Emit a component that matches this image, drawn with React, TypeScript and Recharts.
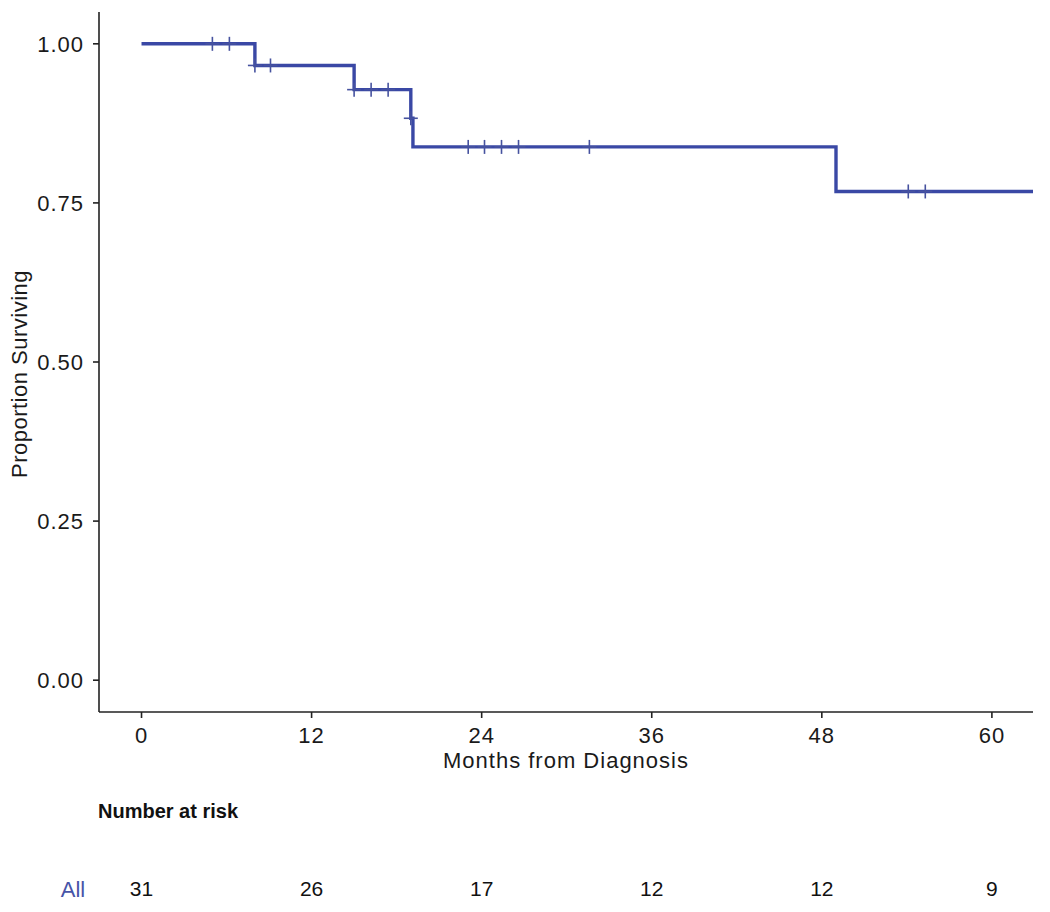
import React from 'react';
import {
  ComposedChart,
  Line,
  Scatter,
  XAxis,
  YAxis,
  Label,
} from 'recharts';

// Kaplan-Meier estimate (step after each time)
const survTimes = [0, 8, 15, 19, 19.15, 49, 62.9];
const survProb = [1, 0.966, 0.928, 0.883, 0.838, 0.768, 0.768];

// censored observations (+ marks)
const censorTimes = [5, 6.2, 8, 9.1, 15, 16.2, 17.4, 19, 23.05, 24.2, 25.4, 26.6, 31.6, 54.1, 55.3];
const censorProb = [1, 1, 0.966, 0.966, 0.928, 0.928, 0.928, 0.883, 0.838, 0.838, 0.838, 0.838, 0.838, 0.768, 0.768];

const xTicks = [0, 12, 24, 36, 48, 60];
const yTicks = [0, 0.25, 0.5, 0.75, 1];
const riskCounts = [31, 26, 17, 12, 12, 9];

const curveData = survTimes.map((t, i) => ({ t, s: survProb[i] }));
const censorData = censorTimes.map((t, i) => ({ t, s: censorProb[i] }));

const FONT = '"Liberation Sans", Arial, sans-serif';
const BLUE = '#3a48a5';

const CensorMark = (props: any) => {
  const { cx, cy } = props;
  if (cx == null || cy == null) return null;
  return (
    <g stroke="#46529f" strokeWidth={1.6}>
      <line x1={cx - 7} y1={cy} x2={cx + 7} y2={cy} />
      <line x1={cx} y1={cy - 7} x2={cx} y2={cy + 7} />
    </g>
  );
};

const RiskTick = (props: any) => {
  const { x, y, payload } = props;
  const idx = xTicks.indexOf(payload.value);
  return (
    <text x={x} y={y} dy="0.71em" textAnchor="middle" fontSize={21} fontFamily={FONT} fill="#111">
      {riskCounts[idx]}
    </text>
  );
};

const App: React.FC = () => {
  return (
    <div style={{ position: 'absolute', left: 0, top: 0, width: 1050, height: 912, background: '#fff' }}>
      <ComposedChart width={1050} height={912} margin={{ top: 12, right: 17, bottom: 0, left: 0 }}>
        <XAxis
          dataKey="t"
          type="number"
          domain={[-3.0, 62.9]}
          ticks={xTicks}
          allowDataOverflow
          height={60}
          stroke="#222"
          strokeWidth={1.6}
          tickSize={6}
          tickMargin={9}
          tick={{ fontSize: 22, fontFamily: FONT, fill: '#1a1a1a', letterSpacing: 1 }}
        >
          <Label
            content={({ viewBox }: any) => (
              <text
                x={viewBox.x + viewBox.width / 2}
                y={viewBox.y + 56}
                textAnchor="middle"
                fontSize={22}
                letterSpacing={1}
                fontFamily={FONT}
                fill="#1a1a1a"
              >
                Months from Diagnosis
              </text>
            )}
          />
        </XAxis>
        <XAxis
          xAxisId="risk"
          dataKey="t"
          type="number"
          domain={[-3.0, 62.9]}
          ticks={xTicks}
          allowDataOverflow
          height={140}
          axisLine={false}
          tickLine={false}
          tickSize={0}
          tickMargin={109}
          tick={<RiskTick />}
        >
          <Label
            content={({ viewBox }: any) => (
              <g fontFamily={FONT}>
                <text x={viewBox.x - 1} y={viewBox.y + 46} fontSize={20} fontWeight="bold" fill="#111">
                  Number at risk
                </text>
                <text x={73} y={viewBox.y + 117} dy="0.36em" textAnchor="middle" fontSize={22} fill="#4654a8">
                  All
                </text>
              </g>
            )}
          />
        </XAxis>
        <YAxis
          type="number"
          domain={[-0.05, 1.05]}
          ticks={yTicks}
          allowDataOverflow
          width={99}
          stroke="#222"
          strokeWidth={1.6}
          tickSize={6}
          tickMargin={9}
          tickFormatter={(v: number) => v.toFixed(2)}
          tick={{ fontSize: 22, fontFamily: FONT, fill: '#1a1a1a', letterSpacing: 1 }}
        >
          <Label
            content={({ viewBox }: any) => {
              const cx = 19;
              const cy = viewBox.y + viewBox.height / 2 + 12;
              return (
                <text
                  x={cx}
                  y={cy}
                  transform={`rotate(-90 ${cx} ${cy})`}
                  textAnchor="middle"
                  dy="0.36em"
                  fontSize={22}
                  letterSpacing={0.5}
                  fontFamily={FONT}
                  fill="#1a1a1a"
                >
                  Proportion Surviving
                </text>
              );
            }}
          />
        </YAxis>
        <Line
          data={curveData}
          dataKey="s"
          type="stepAfter"
          stroke={BLUE}
          strokeWidth={3.4}
          dot={false}
          activeDot={false}
          isAnimationActive={false}
        />
        <Scatter
          data={censorData}
          dataKey="s"
          shape={<CensorMark />}
          isAnimationActive={false}
        />
      </ComposedChart>
    </div>
  );
};

export default App;
